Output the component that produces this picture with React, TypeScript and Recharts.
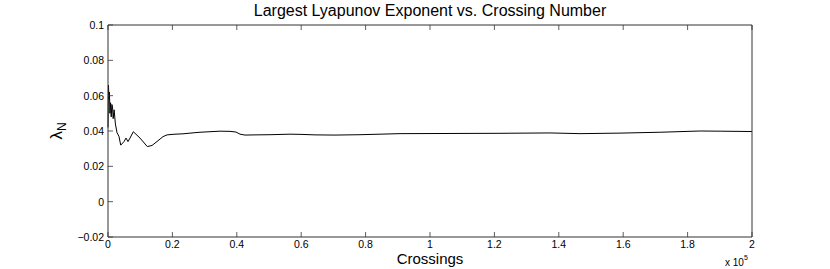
import React from 'react';
import { LineChart, Line, XAxis, YAxis } from 'recharts';

// crossing number vs largest Lyapunov exponent
const crossings = [
  0, 150, 300, 450, 600, 800, 1000, 1200, 1400, 1600, 1900, 2300, 2800, 3400, 3950,
  4970, 5590, 6210, 6830, 7860, 9940, 12200, 13670, 15530, 17080, 18330, 20810,
  23300, 26090, 28575, 31680, 34790, 37890, 39760, 41000, 42550, 45660, 50320,
  56530, 59640, 64300, 70500, 78270, 84480, 90700, 106200, 121750, 137300,
  146600, 159000, 171400, 183900, 190100, 200000,
];
const lambdaN = [
  0.042, 0.066, 0.058, 0.062, 0.05, 0.056, 0.048, 0.055, 0.054, 0.047, 0.052, 0.044,
  0.039, 0.037, 0.032, 0.034, 0.036, 0.034, 0.036, 0.0396, 0.036, 0.0312, 0.0318,
  0.0345, 0.0368, 0.0378, 0.0382, 0.0384, 0.0389, 0.0393, 0.0396, 0.0399, 0.0398,
  0.0394, 0.0382, 0.0377, 0.0378, 0.0379, 0.0382, 0.0381, 0.0378, 0.0377, 0.0379,
  0.0382, 0.0385, 0.0386, 0.0387, 0.0389, 0.0385, 0.0388, 0.0393, 0.04, 0.0399,
  0.0397,
];

const xTicks = [0, 20000, 40000, 60000, 80000, 100000, 120000, 140000, 160000, 180000, 200000];
const yTicks = [-0.02, 0, 0.02, 0.04, 0.06, 0.08, 0.1];

const data = crossings.map((x, i) => ({ x, lambda: lambdaN[i] }));

const FONT = '"Liberation Sans", Arial, Helvetica, sans-serif';
const AXIS = '#333';
const TICK_LEN = 5;

const fmtX = (v: number) => String(+(v / 1e5).toFixed(1));
const fmtY = (v: number) => (v < 0 ? '\u2212' + String(-v) : String(v));

const BottomTick = ({ x, y, payload }: any) => (
  <g>
    <line x1={x} x2={x} y1={y} y2={y - TICK_LEN} stroke={AXIS} strokeWidth={0.8} />
    <text x={x} y={y + 11} textAnchor="middle" fontSize={10.5} fontFamily={FONT} fill="#000">
      {fmtX(payload.value)}
    </text>
  </g>
);

const TopTick = ({ x, y }: any) => (
  <line x1={x} x2={x} y1={y} y2={y + TICK_LEN} stroke={AXIS} strokeWidth={0.8} />
);

const LeftTick = ({ x, y, payload }: any) => (
  <g>
    <line x1={x} x2={x + TICK_LEN} y1={y} y2={y} stroke={AXIS} strokeWidth={0.8} />
    <text x={x - 4} y={y + 4} textAnchor="end" fontSize={10.5} fontFamily={FONT} fill="#000">
      {fmtY(payload.value)}
    </text>
  </g>
);

const RightTick = ({ x, y }: any) => (
  <line x1={x} x2={x - TICK_LEN} y1={y} y2={y} stroke={AXIS} strokeWidth={0.8} />
);

export default function App() {
  const axisLine = { stroke: AXIS, strokeWidth: 1 };
  return (
    <div style={{ position: 'relative', width: 830, height: 269, background: '#fff' }}>
      <style>{'body{margin:0}'}</style>
      <LineChart
        width={830}
        height={269}
        data={data}
        margin={{ top: 24, right: 77, bottom: 31, left: 107 }}
      >
        <XAxis
          dataKey="x"
          type="number"
          domain={[0, 200000]}
          ticks={xTicks}
          interval={0}
          height={1}
          tickSize={0}
          tickMargin={0}
          axisLine={axisLine}
          tick={BottomTick}
        />
        <XAxis
          xAxisId="top"
          orientation="top"
          dataKey="x"
          type="number"
          domain={[0, 200000]}
          ticks={xTicks}
          interval={0}
          height={1}
          tickSize={0}
          tickMargin={0}
          axisLine={axisLine}
          tick={TopTick}
        />
        <YAxis
          type="number"
          domain={[-0.02, 0.1]}
          ticks={yTicks}
          interval={0}
          width={1}
          tickSize={0}
          tickMargin={0}
          axisLine={axisLine}
          tick={LeftTick}
        />
        <YAxis
          yAxisId="right"
          orientation="right"
          type="number"
          domain={[-0.02, 0.1]}
          ticks={yTicks}
          interval={0}
          width={1}
          tickSize={0}
          tickMargin={0}
          axisLine={axisLine}
          tick={RightTick}
        />
        <Line
          type="linear"
          dataKey="lambda"
          stroke="#000"
          strokeWidth={1}
          dot={false}
          isAnimationActive={false}
        />
      </LineChart>
      <svg
        width={830}
        height={269}
        style={{ position: 'absolute', left: 0, top: 0, pointerEvents: 'none' }}
        fontFamily={FONT}
      >
        <text x={430} y={16} textAnchor="middle" fontSize={16} fill="#000">
          Largest Lyapunov Exponent vs. Crossing Number
        </text>
        <text x={430} y={264} textAnchor="middle" fontSize={15} fill="#000">
          Crossings
        </text>
        <text x={725} y={266} fontSize={10} fill="#000">
          x 10<tspan dy={-6} fontSize={7}>5</tspan>
        </text>
        <text transform="translate(62,131) rotate(-90)" textAnchor="middle" fontSize={17} fill="#000">
          λ<tspan dy={4} fontSize={12}>N</tspan>
        </text>
      </svg>
    </div>
  );
}
